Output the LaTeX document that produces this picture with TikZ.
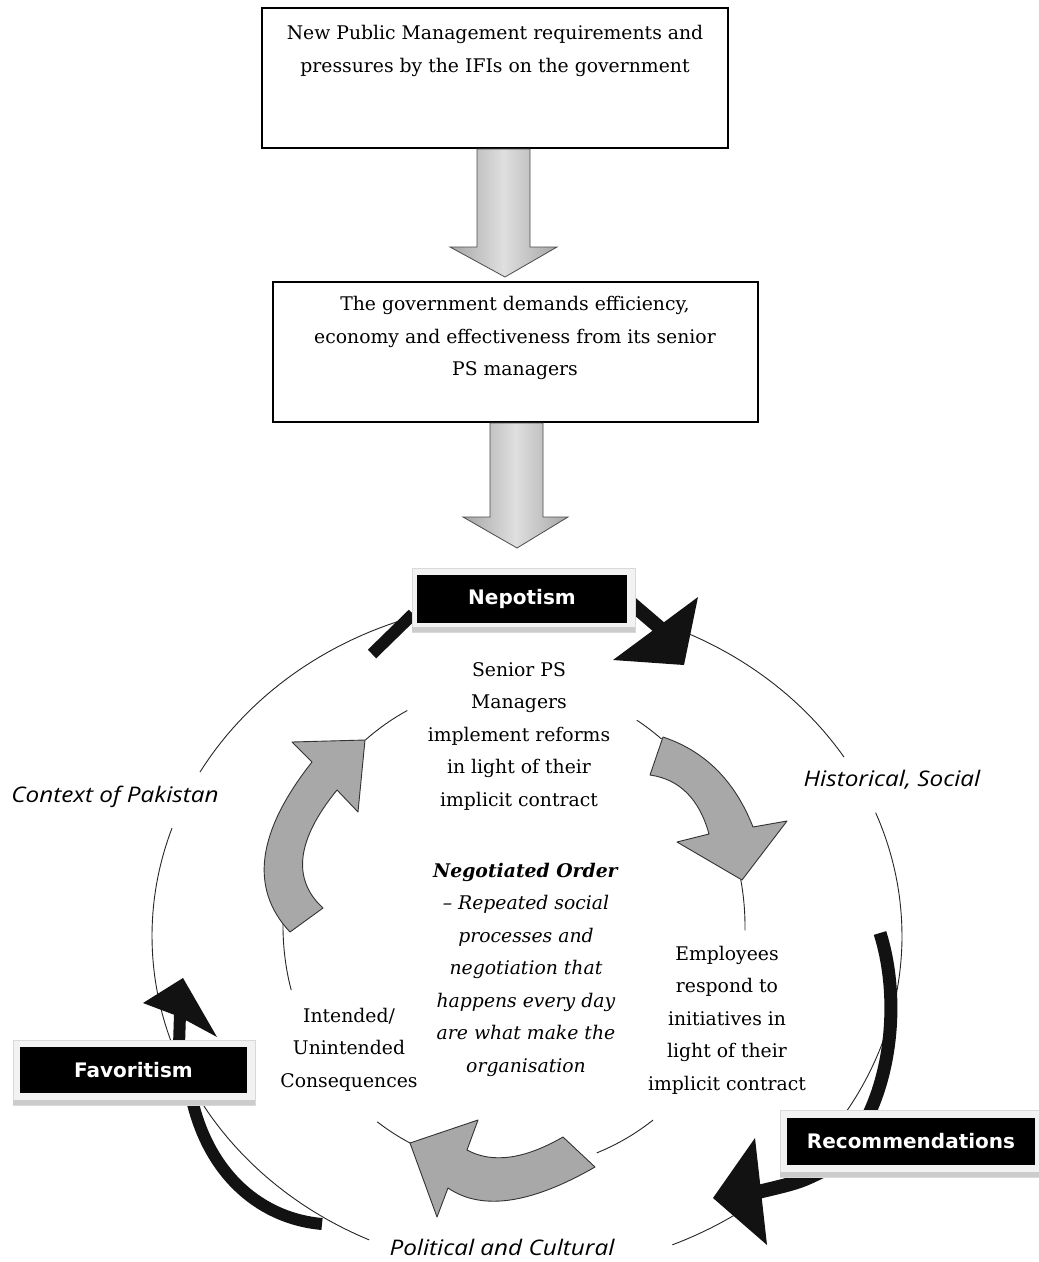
\documentclass[tikz,border=0pt]{standalone}
\usepackage{fontspec}
\setmainfont{DejaVu Serif}
\newfontfamily\labelfont[FakeStretch=1.13]{Open Sans}
\newfontfamily\tagfont{DejaVu Sans}
\usetikzlibrary{calc}
\begin{document}
\begin{tikzpicture}[x=1pt,y=-1pt,
  flowbox/.style={draw=black, line width=1.3pt, fill=white, inner sep=0pt},
  blockarrow/.style={draw=gray!60!black, line width=0.8pt, left color=gray!70, right color=gray!70, middle color=gray!25},
  cyclearrow/.style={fill=gray!68, draw=black!80, line width=0.9pt, line join=round},
  ring/.style={draw=black!85, line width=0.9pt},
  blackshaft/.style={draw=black!93, line cap=butt},
  blackhead/.style={fill=black!93},
  tagframe/.style={fill=gray!10, draw=gray!30, line width=0.8pt},
  tagbox/.style={fill=black, text=white, inner sep=0pt, font=\tagfont\bfseries\fontsize{20}{23}\selectfont},
  bodytext/.style={align=center, inner sep=0pt, font=\fontsize{18.8}{32.5}\selectfont},
  labeltext/.style={inner sep=0pt, font=\labelfont\itshape\fontsize{21.5}{25}\selectfont}]
\useasboundingbox (0,0) rectangle (1039,1262);
\fill[white] (0,0) rectangle (1039,1262);

% ---- top flow boxes
\node[flowbox, minimum width=466pt, minimum height=140pt] (nmpbox) at (495,78) {};
\node[bodytext] (nmptext) at (495,51) {New Public Management requirements and\\pressures by the IFIs on the government};
\node[flowbox, minimum width=485pt, minimum height=140pt] (govbox) at (515.5,352) {};
\node[bodytext] (govtext) at (515,338) {The government demands efficiency,\\economy and effectiveness from its senior\\PS managers};

% ---- block arrows
\coordinate (a1tip) at (505,277);
\path[blockarrow] (477,149) -- (530,149) -- (530,247) -- (557,247) -- (a1tip) -- (450,247) -- (477,247) -- cycle;
\coordinate (a2tip) at (517,548);
\path[blockarrow] (490,423) -- (543,423) -- (543,517) -- (568,517) -- (a2tip) -- (463,517) -- (490,517) -- cycle;

% ---- outer ring
\draw[ring] plot[domain=32.3:150.7, samples=80] ({527+375*cos(\x)},{936-335*sin(\x)});
\draw[ring] plot[domain=161.2:245.1, samples=80] ({527+375*cos(\x)},{936-335*sin(\x)});
\draw[ring] plot[domain=-67.2:21.6, samples=80] ({527+375*cos(\x)},{936-335*sin(\x)});

% ---- inner ring
\foreach \a/\b in {117.5/130.1, 50.3/57.9, -1/10.9, -69/-53, -126.3/-116.7, 179.3/195.3}
  \draw[ring] plot[domain=\a:\b, samples=20] ({514+231*cos(\x)},{926-243*sin(\x)});

% ---- grey cycle arrows
\path[cyclearrow] (663,737) .. controls (705,751) and (735,781) .. (753,827) -- (787,821) -- (742,880) -- (677,842) -- (709,834) .. controls (699.3,799) and (679.7,779.3) .. (650,775) -- cycle;
\path[cyclearrow] (595,1167) .. controls (530.7,1204) and (481.7,1211) .. (448,1188) -- (437,1217) -- (410,1143) -- (478,1120) -- (467,1150) .. controls (492.3,1163.7) and (524.3,1159.3) .. (563,1137) -- cycle;
\path[cyclearrow] (290,932) .. controls (249.3,888.7) and (256.7,832) .. (312,762) -- (292,742) -- (365,740) -- (358,812) -- (337,790) .. controls (296.3,840) and (291.7,879.3) .. (323,908) -- cycle;

% ---- black arrows
\coordinate (nepR) at (625,598);
\coordinate (nepL) at (413,614);
\draw[blackshaft, line width=14pt] (nepR) -- (660,628);
\fill[blackhead] (698,597) -- (684,665) -- (613,660) -- cycle;
\draw[blackshaft, line width=12pt] (372,654) -- (nepL);

\coordinate (recT) at (866,1120);
\coordinate (recB) at (828,1168);
\draw[blackshaft, line width=13pt] (880,933) .. controls (898,990) and (894,1065) .. (recT);
\draw[blackshaft, line width=14pt] (recB) .. controls (800,1182) .. (758,1192);
\fill[blackhead] (755,1138) -- (713,1198) -- (767,1245) -- cycle;

\coordinate (favB) at (191,1095);
\coordinate (favT) at (179,1046);
\draw[blackshaft, line width=12pt] (favB) .. controls (206,1168) and (255,1218) .. (322,1224);
\draw[blackshaft, line width=12pt] (favT) -- (180,1014);
\fill[blackhead] (183,978) -- (143,1003) -- (180,1017) -- (217,1037) -- cycle;

% ---- tag boxes
\path[tagframe] (412,568) rectangle (635,632);
\fill[gray!40] (412,627) rectangle (635,632);
\node[tagbox, minimum width=210pt, minimum height=48pt] (nep) at (522,599) {Nepotism};
\path[tagframe] (13,1040) rectangle (255,1105);
\fill[gray!40] (13,1100) rectangle (255,1105);
\node[tagbox, minimum width=227pt, minimum height=46pt] (fav) at (133.5,1070) {Favoritism};
\path[tagframe] (780,1110) rectangle (1039,1177);
\fill[gray!40] (780,1172) rectangle (1039,1177);
\node[tagbox, minimum width=248pt, minimum height=47pt] (rec) at (911,1141.5) {Recommendations};

% ---- texts in the cycle
\node[bodytext] (senior) at (519,736) {Senior PS\\Managers\\implement reforms\\in light of their\\implicit contract};
\node[bodytext] (negot) at (526,969.5) {\textbf{\textit{Negotiated Order}}\\\textit{-- Repeated social}\\\textit{processes and}\\\textit{negotiation that}\\\textit{happens every day}\\\textit{are what make the}\\\textit{organisation}};
\node[bodytext] (employ) at (727,1020) {Employees\\respond to\\initiatives in\\light of their\\implicit contract};
\node[bodytext] (intend) at (349,1049.5) {Intended/\\Unintended\\Consequences};

% ---- context labels
\node[labeltext] (ctx) at (115,797) {Context of Pakistan};
\node[labeltext] (hist) at (892,780) {Historical, Social};
\node[labeltext] (polit) at (502,1247) {Political and Cultural};
\end{tikzpicture}
\end{document}
